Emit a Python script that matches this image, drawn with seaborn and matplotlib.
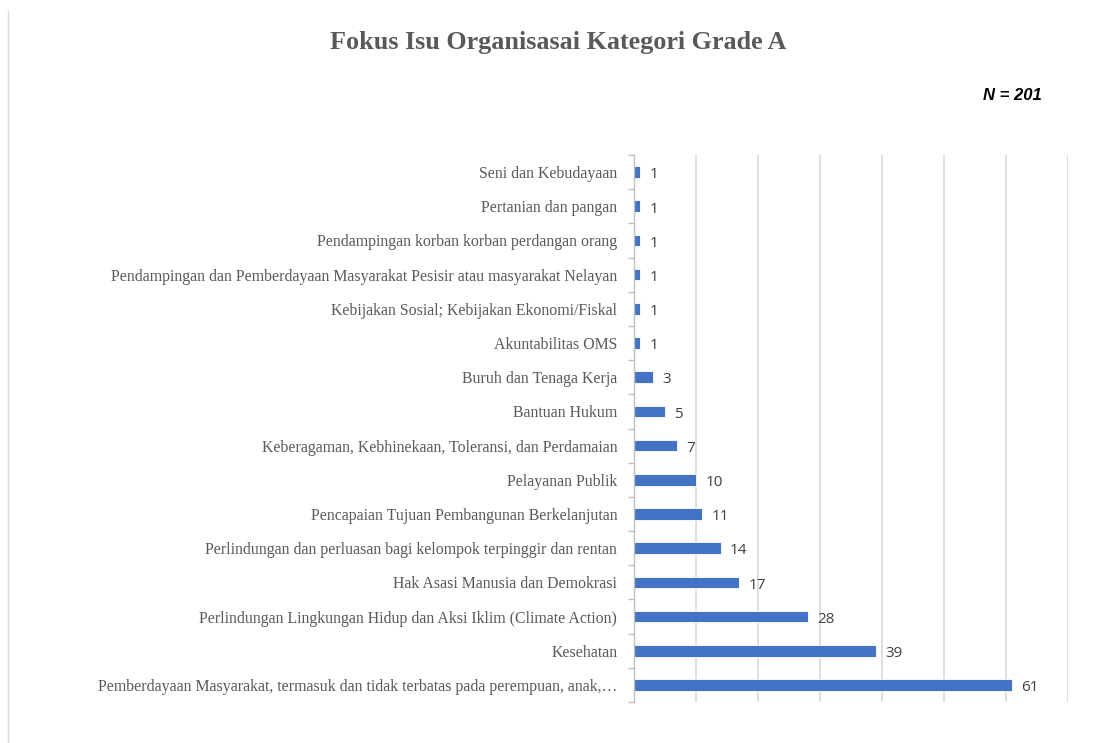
import matplotlib
matplotlib.use("Agg")
import matplotlib.pyplot as plt
import seaborn as sns
import pandas as pd
from matplotlib.ticker import FixedLocator, MultipleLocator
from matplotlib.lines import Line2D

categories = [
    "Seni dan Kebudayaan",
    "Pertanian dan pangan",
    "Pendampingan korban korban perdangan orang",
    "Pendampingan dan Pemberdayaan Masyarakat Pesisir atau masyarakat Nelayan",
    "Kebijakan Sosial; Kebijakan Ekonomi/Fiskal",
    "Akuntabilitas OMS",
    "Buruh dan Tenaga Kerja",
    "Bantuan Hukum",
    "Keberagaman, Kebhinekaan, Toleransi, dan Perdamaian",
    "Pelayanan Publik",
    "Pencapaian Tujuan Pembangunan Berkelanjutan",
    "Perlindungan dan perluasan bagi kelompok terpinggir dan rentan",
    "Hak Asasi Manusia dan Demokrasi",
    "Perlindungan Lingkungan Hidup dan Aksi Iklim (Climate Action)",
    "Kesehatan",
    "Pemberdayaan Masyarakat, termasuk dan tidak terbatas pada perempuan, anak,\u2026",
]
values = [1, 1, 1, 1, 1, 1, 3, 5, 7, 10, 11, 14, 17, 28, 39, 61]
title = "Fokus Isu Organisasai Kategori Grade A"
note = "N = 201"

sns.set_theme(style="white")
plt.rcParams["font.family"] = ["Liberation Serif", "DejaVu Serif"]

df = pd.DataFrame({"cat": categories, "val": values})

fig = plt.figure(figsize=(10.97, 7.43), dpi=100)
ax = fig.add_axes([634/1097, 1-702/743, (1068-634)/1097, (702-155)/743])

sns.barplot(data=df, x="val", y="cat", orient="h", color="#4472C4",
            width=0.34, ax=ax, saturation=1)
for p in ax.patches:
    p.set_edgecolor("white")
    p.set_linewidth(0.6)

n = len(categories)
ax.set_xlim(0, 70)
ax.set_ylim(n - 0.5, -0.5)
ax.xaxis.set_major_locator(MultipleLocator(10))
ax.grid(axis="x", color="#d9d9d9", linewidth=1.2)
ax.grid(axis="y", visible=False)
ax.set_axisbelow(True)
ax.set_xticklabels([])
ax.tick_params(axis="x", length=0)
ax.set_xlabel("")
ax.set_ylabel("")

for s in ["top", "right", "bottom"]:
    ax.spines[s].set_visible(False)
ax.spines["left"].set_color("#bfbfbf")
ax.spines["left"].set_linewidth(1.0)

ax.yaxis.set_minor_locator(FixedLocator([i - 0.5 for i in range(n + 1)]))
ax.tick_params(axis="y", which="major", length=0, pad=12,
               labelsize=11.4, labelcolor="#595959")
ax.tick_params(axis="y", which="minor", length=4, color="#bfbfbf", width=1, left=True)

for i, v in enumerate(values):
    ax.text(v + 1.5, i + 0.08, str(v), va="center", ha="left",
            fontsize=11, color="#404040", family=["Open Sans", "DejaVu Sans"])

fig.text(558/1097, 1-42/743, title, ha="center", va="center",
         fontsize=18.8, fontweight="bold", color="#595959",
         family=["Liberation Serif", "DejaVu Serif"])
fig.text(1042/1097, 1-95/743, note, ha="right", va="center",
         fontsize=12, fontweight="bold", fontstyle="italic", color="black",
         family=["Liberation Sans", "DejaVu Sans"])

fig.add_artist(Line2D([8/1097, 8/1097], [0, 1-11/743], transform=fig.transFigure,
                      color="#d9d9d9", linewidth=1))

fig.savefig("out.png", dpi=100, facecolor="white")
